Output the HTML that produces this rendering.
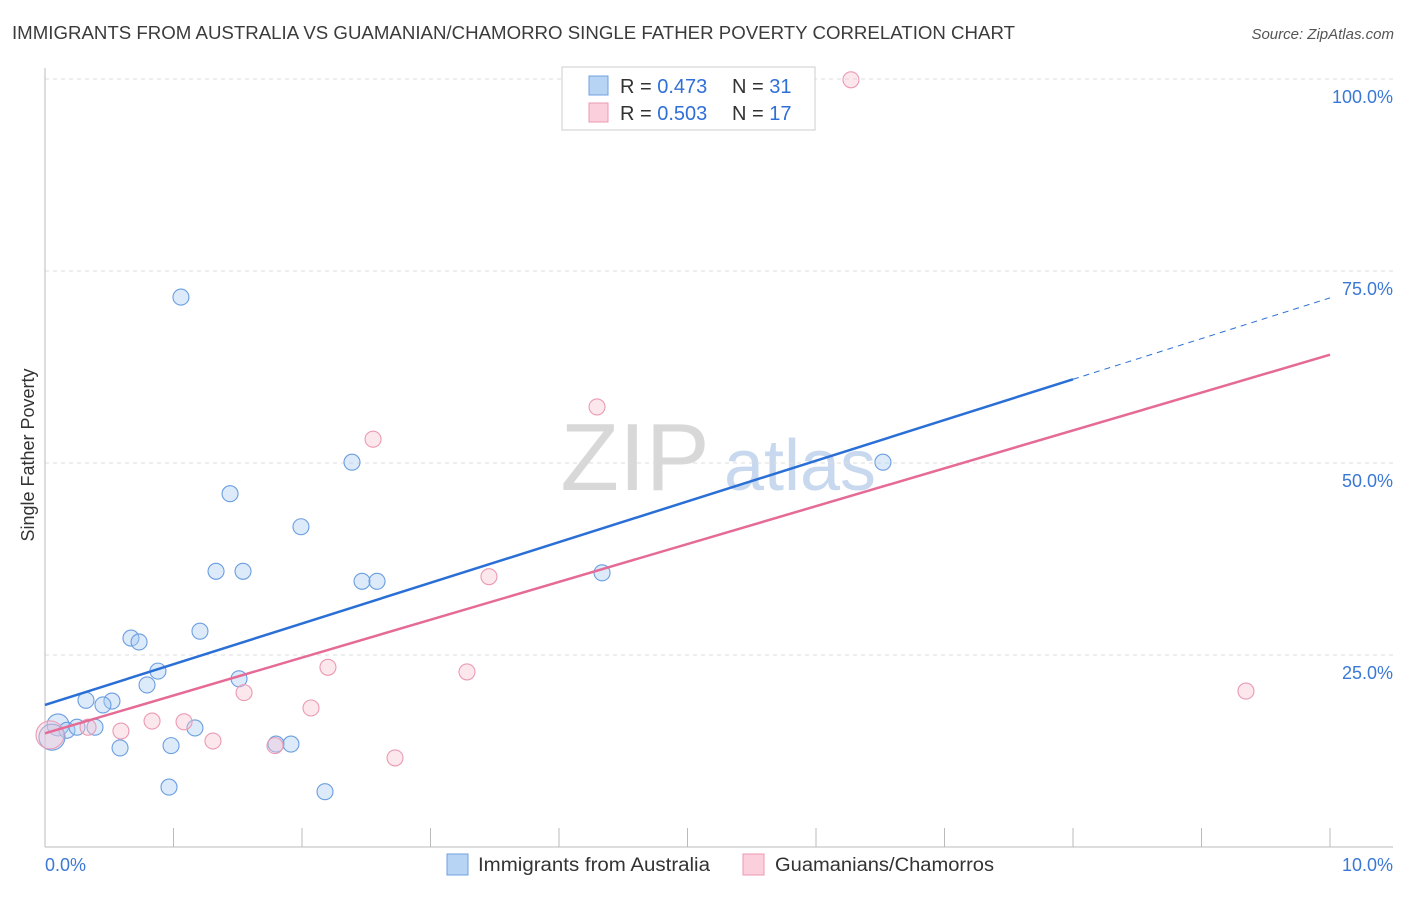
<!DOCTYPE html>
<html><head><meta charset="utf-8"><style>
body{margin:0;background:#fff;font-family:"Liberation Sans",sans-serif}
svg text{font-family:"Liberation Sans",sans-serif}
</style></head><body>
<svg id="c" width="1406" height="892" xmlns="http://www.w3.org/2000/svg">
<text x="12" y="39" font-size="18" textLength="1003" lengthAdjust="spacingAndGlyphs" fill="#3b3b3b">IMMIGRANTS FROM AUSTRALIA VS GUAMANIAN/CHAMORRO SINGLE FATHER POVERTY CORRELATION CHART</text>
<text x="1394" y="39" font-size="15" fill="#555" text-anchor="end" font-style="italic">Source: ZipAtlas.com</text>
<g><text x="635" y="490" font-size="96" fill="#d8d8d8" font-family="Liberation Serif" text-anchor="middle">ZIP</text><text x="800" y="490" font-size="72" fill="#c8d8ee" text-anchor="middle">atlas</text></g>
<g id="grid"></g>
<g id="axes"></g>
<g id="marks"></g>
<text transform="translate(34,455) rotate(-90)" font-size="18" fill="#333" text-anchor="middle">Single Father Poverty</text>
<g>
<rect x="562" y="67" width="253" height="63" fill="#fff" stroke="#ccc"/>
<rect x="589" y="76" width="19" height="19" fill="#b8d4f5" stroke="#6fa0e0"/>
<rect x="589" y="103" width="19" height="19" fill="#fbd0dc" stroke="#ec98b2"/>
<text x="620" y="93" font-size="20" fill="#333">R = <tspan fill="#2f6fd8">0.473</tspan><tspan x="732">N = </tspan><tspan fill="#2f6fd8">31</tspan></text>
<text x="620" y="120" font-size="20" fill="#333">R = <tspan fill="#2f6fd8">0.503</tspan><tspan x="732">N = </tspan><tspan fill="#2f6fd8">17</tspan></text>
</g>
<g>
<rect x="447" y="854" width="21" height="21" fill="#b8d4f5" stroke="#6fa0e0"/>
<text x="478" y="871" font-size="19" textLength="232" lengthAdjust="spacingAndGlyphs" fill="#333">Immigrants from Australia</text>
<rect x="743" y="854" width="21" height="21" fill="#fbd0dc" stroke="#ec98b2"/>
<text x="775" y="871" font-size="19" textLength="219" lengthAdjust="spacingAndGlyphs" fill="#333">Guamanians/Chamorros</text>
</g>
</svg>
<script>
const yTicks=[25,50,75,100];
const yTickLabels=["25.0%","50.0%","75.0%","100.0%"];
const xTickLabels=["0.0%","10.0%"];
const blueX=[1.058,1.44,2.389,1.992,1.331,1.541,2.467,2.584,4.335,6.521,0.669,0.732,1.206,0.879,0.794,1.510,0.319,0.521,0.451,0.101,0.171,0.249,0.389,1.167,0.584,0.981,1.798,1.914,0.965,2.179,0.054];
const blueY=[71.6,46.0,50.1,41.7,35.9,35.9,34.6,34.6,35.7,50.1,27.2,26.7,28.1,22.9,21.1,21.9,19.1,19.0,18.5,15.9,15.2,15.6,15.6,15.5,12.9,13.2,13.4,13.4,7.8,7.2,14.3];
const blueR=[8,8,8,8,8,8,8,8,8,8,8,8,8,8,8,8,8,8,8,11,8,8,8,8,8,8,8,8,8,8,13];
const pinkX=[6.272,4.296,2.553,3.455,2.202,3.284,9.346,1.549,2.070,0.833,1.082,0.591,0.335,1.307,1.790,2.724,0.039];
const pinkY=[99.9,57.3,53.1,35.2,23.4,22.8,20.3,20.1,18.1,16.4,16.3,15.1,15.6,13.8,13.2,11.6,14.6];
const pinkR=[8,8,8,8,8,8,8,8,8,8,8,8,8,8,8,8,14];
const blueTrend=[18.5,71.5];
const pinkTrend=[14.8,64.1];
const blueSolidEnd=8.0;
const NS="http://www.w3.org/2000/svg";
const sx=v=>45+v*128.5, sy=v=>847-v*7.68;
function mk(t,a,p){const e=document.createElementNS(NS,t);for(const k in a)e.setAttribute(k,a[k]);p.appendChild(e);return e;}
const grid=document.getElementById('grid'),axes=document.getElementById('axes'),marks=document.getElementById('marks');
yTicks.forEach((v,i)=>{
 const l=mk('line',{x1:45,x2:1393,y1:sy(v),y2:sy(v),stroke:'#ddd','stroke-dasharray':'4,4'},grid);
 
 
 const t=mk('text',{x:1393,y:sy(v)+24,'font-size':18,fill:'#3a78d6','text-anchor':'end'},axes);
 t.textContent=yTickLabels[i];
 
 
});
mk('line',{x1:45,x2:45,y1:68,y2:847,stroke:'#bbb'},axes);
mk('line',{x1:45,x2:1393,y1:847,y2:847,stroke:'#bbb'},axes);
for(let i=0;i<=10;i++){mk('line',{x1:sx(i),x2:sx(i),y1:828,y2:847,stroke:'#bbb'},axes);}
[[0,'start',45],[10,'end',1393]].forEach((d,i)=>{
 const t=mk('text',{x:d[2],y:871,'font-size':18,fill:'#3a78d6','text-anchor':d[1]},axes);
 t.textContent=xTickLabels[i];
 
 
});
blueX.forEach((x,i)=>{
 const c=mk('circle',{cx:sx(x),cy:sy(blueY[i]),r:blueR[i],fill:'rgba(170,202,242,0.4)',stroke:'#6a9ee0','stroke-width':1.1},marks);
 
 
});
pinkX.forEach((x,i)=>{
 const c=mk('circle',{cx:sx(x),cy:sy(pinkY[i]),r:pinkR[i],fill:'rgba(248,196,210,0.4)',stroke:'#eb9ab3','stroke-width':1.1},marks);
 
 
});
const bAt=x=>blueTrend[0]+(blueTrend[1]-blueTrend[0])*x/10;
const t1=mk('line',{x1:sx(0),y1:sy(bAt(0)),x2:sx(blueSolidEnd),y2:sy(bAt(blueSolidEnd)),stroke:'#2a6fd6','stroke-width':2.5},marks);


const t2=mk('line',{x1:sx(blueSolidEnd),y1:sy(bAt(blueSolidEnd)),x2:sx(10),y2:sy(bAt(10)),stroke:'#2a6fd6','stroke-width':1,'stroke-dasharray':'6,5'},marks);


const t3=mk('line',{x1:sx(0),y1:sy(pinkTrend[0]),x2:sx(10),y2:sy(pinkTrend[1]),stroke:'#e56b96','stroke-width':2.5},marks);


</script>
</body></html>
